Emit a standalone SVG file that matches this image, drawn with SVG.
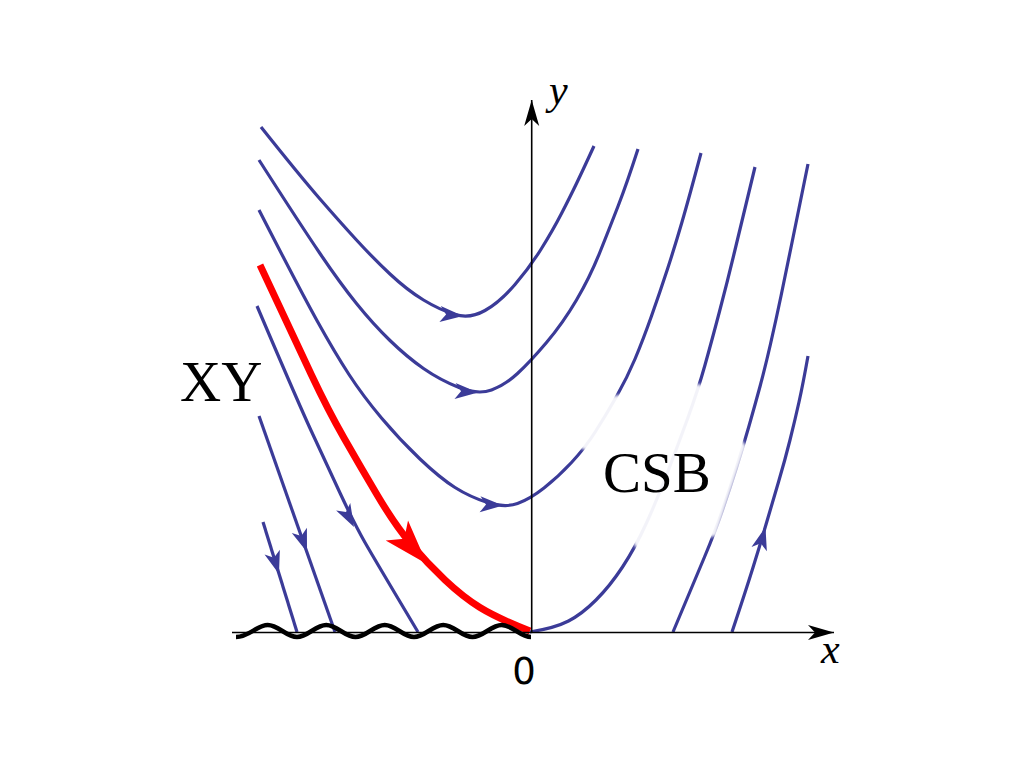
<svg xmlns="http://www.w3.org/2000/svg" width="1024" height="768" viewBox="0 0 1024 768">
<style>
.traj{fill:none;stroke:#3b3b98;stroke-width:3.2}
.red{fill:none;stroke:#ff0000;stroke-width:7}
.axis{fill:none;stroke:#000;stroke-width:1.6}
.lbl{font-family:"Liberation Serif","Times New Roman",serif;fill:#000}
</style>
<defs>
<path id="ab" d="M0,0 L-23,-8 L-17,0 L-23,8 Z" fill="#3b3b98"/>
<path id="ar" d="M0,0 L-45,-15 L-34,0 L-45,15 Z" fill="#ff0000"/>
<marker id="ax" viewBox="-27 -8 28 16" refX="0" refY="0" markerWidth="28" markerHeight="16" markerUnits="userSpaceOnUse" orient="auto">
<path d="M0,0 L-26,-7.5 L-19,0 L-26,7.5 Z" fill="#000"/>
</marker>
<filter id="soft" x="-20%" y="-20%" width="140%" height="140%"><feGaussianBlur stdDeviation="1.5"/></filter>
</defs>
<rect width="1024" height="768" fill="#fff"/>
<g id="trajectories">
<path id="u1" class="traj" d="M261,127 Q300,176 320,199 Q340,222 356.5,240 Q373,258 390,274 Q407,290 423.5,300 Q440,310 455,314.5 Q470,319 485,310.5 Q500,302 515,284.5 Q530,267 541.5,248.5 Q553,230 561.5,213.5 Q570,197 576.5,183.5 Q583,170 594,146"/>
<path id="u2" class="traj" d="M259,160 Q300,224 320,253.5 Q340,283 356.5,303.5 Q373,324 390,340.5 Q407,357 423.5,368.5 Q440,380 459,387.5 Q478,395 491.5,390 Q505,385 517.5,373.5 Q530,362 546.5,342.5 Q563,323 576.5,300 Q590,277 600,252 Q610,227 618.5,205 Q627,183 638,149"/>
<path id="u3" class="traj" d="M259,210 Q300,290 317.5,321.5 Q335,353 349,374.5 Q363,396 381.5,418 Q400,440 420,459 Q440,478 455,487.5 Q470,497 487.5,502.5 Q505,508 517.5,503.5 Q530,499 544,488 Q558,477 571.5,462.5 Q585,448 595.5,431.5 Q606,415 616.5,396.5 Q627,378 635,359 Q643,340 651.5,316 Q660,292 667.5,269 Q675,246 682,222 Q689,198 701,153"/>
<path id="o1" class="traj" d="M530,632 Q555,628 568.5,621 Q582,614 596,600 Q610,586 622.5,567 Q635,548 646,524 Q657,500 667.5,472.5 Q678,445 688,417.5 Q698,390 705,365 Q712,340 719.5,311.5 Q727,283 734,254 Q741,225 755,167"/>
<path id="r5" class="traj" d="M673,632 Q694,582 704.5,557 Q715,532 722.5,510 Q730,488 736.5,467.5 Q743,447 749,426 Q755,405 760,386.5 Q765,368 770.5,344 Q776,320 781,296 Q786,272 791.5,245 Q797,218 808,164"/>
<path id="r6" class="traj" d="M732,632 Q746,590 753,567.5 Q760,545 766,524.5 Q772,504 778.5,482 Q785,460 790,440 Q795,420 799,402 Q803,384 808,356"/>
<path id="ld" class="traj" d="M257,306 Q297,400 311.5,431.5 Q326,463 340.5,494 Q355,525 365,542.5 Q375,560 418,632"/>
<path id="le" class="traj" d="M259,416 L335,632"/>
<path id="lf" class="traj" d="M263,522 L297,632"/>
<path id="red" class="red" d="M260,265 Q295,340 311.5,375 Q328,410 344,438 Q360,466 377.5,495.5 Q395,525 411,544 Q427,563 445,580 Q463,597 480,607.5 Q497,618 530,631"/>
</g>
<g id="arrowheads">
<use href="#ab" transform="translate(463,316) rotate(5)"/>
<use href="#ab" transform="translate(478,392.5) rotate(4)"/>
<use href="#ab" transform="translate(503,505.5) rotate(3)"/>
<use href="#ab" transform="translate(354,527) rotate(62)"/>
<use href="#ab" transform="translate(307,552) rotate(70.6)"/>
<use href="#ab" transform="translate(279,574) rotate(72.8)"/>
<use href="#ab" transform="translate(765.5,527) rotate(-74)"/>
<use href="#ar" transform="translate(427,564) rotate(48)"/>
</g>
<polygon id="fade" points="598,398 700,384 746,446 716,536 636,548 590,452 576,446" fill="#fff" fill-opacity="0.94" filter="url(#soft)"/>
<g id="axes">
<line class="axis" x1="232" y1="632.5" x2="834" y2="632.5" marker-end="url(#ax)"/>
<line class="axis" x1="531.7" y1="632.5" x2="531.7" y2="100" marker-end="url(#ax)"/>
</g>
<path id="wall" d="M236,637 C249,637 257,625 267.75,625 C278.4,625 286.35,637 297,637 C307.65,637 315.6,625 326.25,625 C336.9,625 344.85,637 355.5,637 C366.15,637 374.1,625 384.75,625 C395.4,625 403.35,637 414,637 C424.65,637 432.6,625 443.25,625 C453.9,625 461.85,637 472.5,637 C483.15,637 491.1,625 501.75,625 C512.4,625 520.35,637 531,637" fill="none" stroke="#000" stroke-width="4.5"/>
<g id="labels">
<text class="lbl" x="549" y="104" font-size="42" font-style="italic">y</text>
<text class="lbl" x="821" y="663" font-size="42" font-style="italic">x</text>
<text x="524" y="684" font-family="DejaVu Sans, sans-serif" font-size="37" text-anchor="middle" fill="#000">0</text>
<text class="lbl" x="180" y="401" font-size="57">XY</text>
<text class="lbl" x="603" y="492" font-size="57">CSB</text>
</g>
</svg>
